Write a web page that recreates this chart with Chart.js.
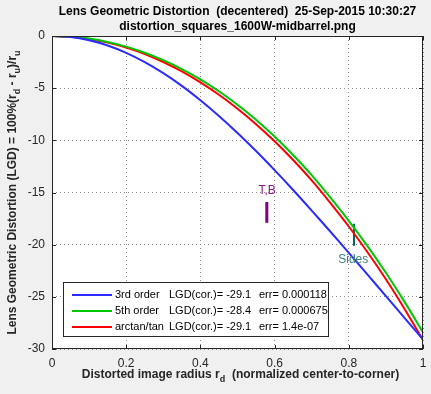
<!DOCTYPE html>
<html><head><meta charset="utf-8">
<script src="https://cdn.jsdelivr.net/npm/chart.js@4/dist/chart.umd.min.js"></script>
<style>html,body{margin:0;padding:0;background:#f0f0f0;overflow:hidden}#wrap{width:431px;height:394px}</style>
</head><body><div id="wrap"><canvas id="c" width="431" height="394"></canvas></div>
<script>
// ---- data ----
const radius     = [0,0.05,0.1,0.15,0.2,0.25,0.3,0.35,0.4,0.45,0.5,0.55,0.6,0.65,0.7,0.75,0.8,0.85,0.9,0.95,1];
const thirdOrder = [0,-0.10,-0.41,-0.91,-1.61,-2.50,-3.56,-4.78,-6.16,-7.67,-9.30,-11.03,-12.86,-14.76,-16.73,-18.74,-20.79,-22.85,-24.93,-27.01,-29.08];
const fifthOrder = [0,-0.06,-0.25,-0.57,-1.02,-1.60,-2.32,-3.17,-4.16,-5.30,-6.59,-8.03,-9.64,-11.41,-13.34,-15.47,-17.71,-20.12,-22.69,-25.46,-28.40];
const arctanTan  = [0,-0.07,-0.28,-0.62,-1.10,-1.72,-2.49,-3.39,-4.44,-5.63,-6.97,-8.45,-10.09,-11.89,-13.84,-15.99,-18.26,-20.70,-23.31,-26.14,-29.16];
const xTicks = [0,0.2,0.4,0.6,0.8,1];
const yTicks = [-30,-25,-20,-15,-10,-5,0];
const seriesNames = ['3rd order','5th order','arctan/tan'];
const seriesLGD   = ['LGD(cor.)= -29.1','LGD(cor.)= -28.4','LGD(cor.)= -29.1'];
const seriesErr   = ['err= 0.000118','err= 0.000675','err= 1.4e-07'];
const tbMarkerX    = [0.579,0.579];
const tbMarkerY    = [-15.9,-17.9];
const sidesMarkerX = [0.814,0.814];
const sidesMarkerY = [-18.0,-20.1];
const tbLabel    = {text:'T,B',   x:0.58,  y:-14.8};
const sidesLabel = {text:'Sides', x:0.812, y:-21.4};
const titleLines = ['Lens Geometric Distortion  (decentered)  25-Sep-2015 10:30:27','distortion_squares_1600W-midbarrel.png'];

// ---- styles ----
const FONT = '"Liberation Sans", Arial, Helvetica, sans-serif';
const colors = ['#2b2bff','#00c800','#ff0000'];
const pts = (xs, ys) => xs.map((x,i)=>({x:x,y:ys[i]}));

function drawSub(ctx, parts, x, y, align){
  const subFont = 'bold 9px '+FONT, mainFont = 'bold 12px '+FONT;
  let total = 0;
  parts.forEach(p=>{ctx.font = p[1]?subFont:mainFont; total += ctx.measureText(p[0]).width;});
  let cx = align==='center' ? x - total/2 : x;
  ctx.textAlign='left'; ctx.textBaseline='alphabetic';
  parts.forEach(p=>{ctx.font = p[1]?subFont:mainFont; ctx.fillText(p[0], cx, y + (p[1]?4:0)); cx += ctx.measureText(p[0]).width;});
}

const deco = {
  id:'deco',
  beforeDraw(chart){
    const c = chart.ctx, a = chart.chartArea;
    c.save(); c.fillStyle='#f0f0f0'; c.fillRect(0,0,chart.width,chart.height);
    c.fillStyle='#ffffff'; c.fillRect(a.left,a.top,a.right-a.left,a.bottom-a.top); c.restore();
  },
  afterDraw(chart){
    const c = chart.ctx, a = chart.chartArea, xs = chart.scales.x, ys = chart.scales.y;
    c.save();
    c.strokeStyle='#262626'; c.lineWidth=1;
    c.strokeRect(a.left+0.5, a.top+0.5, a.right-a.left-1, a.bottom-a.top-1);
    c.beginPath();
    xTicks.forEach(v=>{const px=Math.round(xs.getPixelForValue(v))+0.5;
      c.moveTo(px,a.bottom); c.lineTo(px,a.bottom-4); c.moveTo(px,a.top); c.lineTo(px,a.top+4);});
    yTicks.forEach(v=>{const py=Math.round(ys.getPixelForValue(v))+0.5;
      c.moveTo(a.left,py); c.lineTo(a.left+4,py); c.moveTo(a.right,py); c.lineTo(a.right-4,py);});
    c.stroke();
    c.font='12px '+FONT; c.textAlign='center'; c.textBaseline='middle';
    c.fillStyle='#8a1a8a'; c.fillText(tbLabel.text, xs.getPixelForValue(tbLabel.x), ys.getPixelForValue(tbLabel.y));
    c.fillStyle='#3c8080'; c.fillText(sidesLabel.text, xs.getPixelForValue(sidesLabel.x), ys.getPixelForValue(sidesLabel.y));
    const L=63, T=282, R=329, B=337;
    c.fillStyle='#ffffff'; c.fillRect(L,T,R-L,B-T);
    c.strokeStyle='#262626'; c.lineWidth=1; c.strokeRect(L+0.5,T+0.5,R-L-1,B-T-1);
    c.font='11px '+FONT; c.textAlign='left'; c.textBaseline='middle'; c.lineWidth=2;
    const rows=[295,311,327];
    seriesNames.forEach((n,i)=>{
      const y=rows[i];
      c.strokeStyle=colors[i]; c.beginPath(); c.moveTo(72,y); c.lineTo(112,y); c.stroke();
      c.fillStyle='#000';
      c.fillText(n,115,y);
      const w = c.measureText(n+' ').width;
      c.fillText(seriesLGD[i], Math.max(169,115+w), y);
      c.fillText(seriesErr[i], 259, y);
    });
    c.fillStyle='#000'; c.font='bold 12px '+FONT; c.textAlign='center'; c.textBaseline='middle';
    const cxm = (a.left+a.right)/2;
    c.fillText(titleLines[0], cxm, 12);
    c.fillText(titleLines[1], cxm, 27);
    c.fillStyle='#262626';
    drawSub(c, [['Distorted image radius r',false],['d',true],['  (normalized center-to-corner)',false]], cxm+3, 378, 'center');
    c.translate(16, (a.top+a.bottom)/2);
    c.rotate(-Math.PI/2);
    drawSub(c, [['Lens Geometric Distortion (LGD) = 100%(r',false],['d',true],[' - r',false],['u',true],[')/r',false],['u',true]], 0, 0, 'center');
    c.restore();
  }
};

new Chart(document.getElementById('c'), {
  type:'scatter',
  data:{datasets:[
    {label:'3rd order', data:pts(radius,thirdOrder), showLine:true, borderColor:colors[0], borderWidth:2, pointRadius:0, tension:0.3},
    {label:'5th order', data:pts(radius,fifthOrder), showLine:true, borderColor:colors[1], borderWidth:2, pointRadius:0, tension:0.3},
    {label:'arctan/tan', data:pts(radius,arctanTan), showLine:true, borderColor:colors[2], borderWidth:2, pointRadius:0, tension:0.3},
    {label:'T,B', data:pts(tbMarkerX,tbMarkerY), showLine:true, borderColor:'#800080', borderWidth:3, pointRadius:0},
    {label:'Sides', data:pts(sidesMarkerX,sidesMarkerY), showLine:true, borderColor:'#006666', borderWidth:2, pointRadius:0}
  ]},
  options:{
    responsive:false, animation:false, devicePixelRatio:1,
    layout:{padding:{top:36,right:8,left:0,bottom:0}},
    plugins:{legend:{display:false}, tooltip:{enabled:false}, title:{display:false}},
    scales:{
      x:{type:'linear', min:0, max:1,
         afterFit(s){s.height=45; s.paddingLeft=0; s.paddingRight=0;},
         afterBuildTicks(s){s.ticks = xTicks.map(v=>({value:v}));},
         ticks:{padding:7, color:'#262626', font:{family:FONT,size:12}, maxRotation:0, callback:v=>String(v)},
         grid:{color:'#8c8c8c', lineWidth:1, drawTicks:false},
         border:{display:false, dash:[1,3]}},
      y:{type:'linear', min:-30, max:0,
         afterFit(s){s.width=52; s.paddingTop=0; s.paddingBottom=0;},
         afterBuildTicks(s){s.ticks = yTicks.map(v=>({value:v}));},
         ticks:{padding:7, color:'#262626', font:{family:FONT,size:12}, callback:v=>String(v)},
         grid:{color:'#8c8c8c', lineWidth:1, drawTicks:false},
         border:{display:false, dash:[1,3]}}
    }
  },
  plugins:[deco]
});
</script></body></html>
